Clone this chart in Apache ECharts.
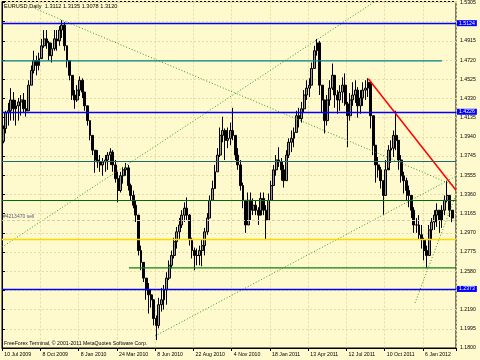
<!DOCTYPE html>
<html><head><meta charset="utf-8">
<script src="https://cdn.jsdelivr.net/npm/echarts@6/dist/echarts.min.js"></script>
<style>html,body{margin:0;padding:0;background:#FFFACD}#c{width:480px;height:360px}</style>
</head><body><div id="c"></div>
<script>
const symbolTitle = 'EURUSD,Daily';
const lastOHLC = ['1.3112', '1.3135', '1.3078', '1.3120'];
const footerText = 'FreeForex Terminal, \u00a9 2001-2011 MetaQuotes Software Corp.';
const xTickLabels = ['10 Jul 2009','8 Oct 2009','8 Jan 2010','24 Mar 2010','8 Jun 2010','22 Aug 2010','4 Nov 2010','18 Jan 2011','13 Apr 2011','12 Jul 2011','10 Oct 2011','6 Jan 2012'];
const slotsPerTick = 15;
const totalSlots = 178;
const priceTickLabels = ['1.1800','1.1995','1.2190','','1.2580','1.2775','1.2970','1.3165','1.3360','1.3555','1.3745','1.3940','1.4135','1.4330','1.4525','1.4720','1.4915','','1.5305'];
const priceMin = 1.18, priceMax = 1.532, priceStep = 0.0195;

const firstOpen = 1.390;
const highs = [1.406,1.421,1.429,1.444,1.440,1.432,1.434,1.437,1.439,1.432,
1.452,1.467,1.482,1.477,1.480,1.494,1.503,1.503,1.492,1.490,
1.503,1.503,1.507,1.513,1.511,1.482,1.472,1.457,1.442,1.447,
1.456,1.454,1.440,1.423,1.411,1.391,1.381,1.381,1.376,1.373,
1.376,1.379,1.383,1.381,1.371,1.359,1.359,1.364,1.368,1.366,
1.347,1.340,1.330,1.315,1.284,1.267,1.249,1.246,1.239,1.227,
1.213,1.231,1.241,1.244,1.257,1.269,1.279,1.292,1.303,1.312,
1.320,1.328,1.333,1.316,1.292,1.282,1.281,1.284,1.290,1.302,
1.317,1.335,1.350,1.366,1.383,1.404,1.415,1.403,1.404,1.409,
1.424,1.396,1.383,1.371,1.348,1.330,1.338,1.338,1.332,1.330,
1.323,1.338,1.338,1.325,1.337,1.350,1.366,1.376,1.384,1.373,
1.366,1.381,1.393,1.401,1.404,1.421,1.424,1.430,1.442,1.452,
1.454,1.470,1.487,1.494,1.492,1.447,1.426,1.437,1.452,1.469,
1.457,1.442,1.447,1.455,1.459,1.430,1.439,1.450,1.452,1.445,
1.442,1.450,1.452,1.454,1.448,1.416,1.386,1.374,1.364,1.345,
1.371,1.386,1.391,1.401,1.421,1.391,1.376,1.359,1.353,1.345,
1.335,1.323,1.312,1.315,1.305,1.292,1.284,1.305,1.312,1.320,
1.327,1.320,1.325,1.335,1.350,1.335,1.3135];
const lows = [1.388,1.398,1.406,1.411,1.411,1.406,1.411,1.416,1.419,1.415,
1.421,1.447,1.459,1.457,1.462,1.475,1.485,1.484,1.472,1.470,
1.482,1.482,1.487,1.495,1.482,1.465,1.452,1.432,1.423,1.430,
1.436,1.434,1.421,1.406,1.391,1.376,1.358,1.363,1.359,1.355,
1.359,1.361,1.366,1.359,1.348,1.328,1.338,1.347,1.355,1.340,
1.330,1.322,1.308,1.274,1.259,1.247,1.229,1.215,1.221,1.203,
1.188,1.200,1.217,1.219,1.224,1.249,1.261,1.271,1.281,1.290,
1.302,1.308,1.310,1.284,1.271,1.259,1.264,1.264,1.263,1.274,
1.295,1.312,1.330,1.343,1.359,1.374,1.389,1.371,1.383,1.386,
1.391,1.371,1.361,1.340,1.322,1.297,1.305,1.310,1.315,1.315,
1.305,1.320,1.315,1.290,1.310,1.330,1.345,1.355,1.364,1.350,
1.343,1.350,1.373,1.379,1.384,1.399,1.404,1.409,1.419,1.432,
1.435,1.447,1.464,1.477,1.437,1.419,1.398,1.406,1.426,1.442,
1.424,1.418,1.421,1.429,1.426,1.384,1.411,1.426,1.429,1.414,
1.418,1.426,1.432,1.435,1.403,1.376,1.348,1.353,1.342,1.315,
1.335,1.363,1.368,1.374,1.381,1.361,1.348,1.337,1.330,1.323,
1.312,1.297,1.297,1.290,1.281,1.269,1.261,1.274,1.290,1.300,
1.303,1.297,1.302,1.315,1.328,1.313,1.3078];
const closes = [1.403,1.419,1.421,1.432,1.423,1.426,1.430,1.432,1.423,1.421,
1.447,1.462,1.472,1.467,1.474,1.487,1.494,1.490,1.477,1.484,
1.494,1.492,1.503,1.508,1.487,1.472,1.457,1.437,1.432,1.442,
1.452,1.440,1.426,1.411,1.396,1.381,1.371,1.369,1.366,1.369,
1.371,1.376,1.379,1.366,1.352,1.340,1.355,1.361,1.363,1.345,
1.335,1.325,1.315,1.279,1.267,1.251,1.239,1.234,1.229,1.210,
1.203,1.224,1.229,1.239,1.251,1.264,1.274,1.288,1.298,1.305,
1.315,1.322,1.315,1.290,1.279,1.274,1.274,1.279,1.284,1.298,
1.312,1.330,1.342,1.359,1.376,1.396,1.401,1.391,1.393,1.401,
1.396,1.376,1.366,1.345,1.330,1.305,1.330,1.320,1.325,1.320,
1.315,1.332,1.320,1.310,1.330,1.345,1.361,1.371,1.369,1.361,
1.350,1.376,1.389,1.393,1.399,1.416,1.413,1.423,1.437,1.444,
1.447,1.464,1.482,1.490,1.447,1.432,1.411,1.432,1.444,1.457,
1.437,1.432,1.440,1.447,1.428,1.416,1.432,1.437,1.442,1.426,
1.434,1.442,1.444,1.450,1.416,1.386,1.366,1.361,1.350,1.335,
1.361,1.381,1.383,1.396,1.391,1.371,1.355,1.350,1.340,1.335,
1.320,1.305,1.305,1.295,1.290,1.279,1.274,1.300,1.308,1.315,
1.320,1.310,1.320,1.330,1.335,1.320,1.3120];

// horizontal levels (price)
const blueLevels = [1.5124, 1.4226, 1.2373];
const slateLevel = 1.3738;
const darkGreenLevel = 1.3310;
const goldLevel = 1.2896;
const orderPrice = 1.3145;
const orderText = '#4213470 sell';
const bidPrice = 1.3120;
// partial levels & trend lines: [slot, price]
const tealSegment = [[0, 1.4716], [172.5, 1.4716]];
const greenSegment = [[49.8, 1.2613], [178, 1.2613]];
const redTrend = [[143.6, 1.4536], [178, 1.3403]];
const dotTrend1 = [[12.9, 1.5249], [178, 1.3443]];
const dotTrend2 = [[0, 1.2825], [146.2, 1.5320]];
const dotTrend3 = [[60.0, 1.1922], [178, 1.3545]];
const dotTrend4 = [[161.9, 1.2257], [178, 1.3358]];

const categories = [];
for (let i = 0; i < totalSlots; i++) {
  categories.push(i % slotsPerTick === 0 ? (xTickLabels[i / slotsPerTick] || '') : '');
}
const candles = closes.map((c, i) => [i === 0 ? firstOpen : closes[i - 1], c, lows[i], highs[i]]);

const FONT = 'Liberation Sans';
const chart = echarts.init(document.getElementById('c'), null, {renderer: 'canvas'});

function lvl(price, color, width, extra) {
  return Object.assign({yAxis: price, lineStyle: {color: color, width: width, type: 'solid'}, label: {show: false}}, extra || {});
}
function axisTag(price, bg) {
  return {show: true, position: 'end', formatter: price.toFixed(4), backgroundColor: bg, color: '#fff',
    fontSize: 5.2, fontFamily: FONT, padding: [1, 2, 0, 2], distance: 1};
}
const mlData = [];
blueLevels.forEach(p => mlData.push(lvl(p, '#0000ff', 1.3, {label: axisTag(p, '#0000ff')})));
mlData.push(lvl(slateLevel, '#1f6b6b', 1));
mlData.push(lvl(darkGreenLevel, '#0b650b', 1));
mlData.push(lvl(goldLevel, '#ffd700', 1.4));
mlData.push({yAxis: orderPrice, lineStyle: {color: '#d2cbb0', width: 1, type: [3, 2]},
  label: {show: true, position: 'insideStartTop', formatter: orderText, fontSize: 5, fontFamily: FONT, color: '#5a5a7a', distance: 1}});
mlData.push({yAxis: bidPrice, lineStyle: {width: 0, opacity: 0}, label: axisTag(bidPrice, '#000000')});

function seg(data, color, width, type) {
  return {type: 'line', xAxisIndex: 1, yAxisIndex: 0, data: data, symbol: 'none', silent: true,
    lineStyle: {color: color, width: width, type: type}, z: 4, animation: false};
}

chart.setOption({
  backgroundColor: '#FFFACD',
  animation: false,
  title: [
    {text: symbolTitle + '  ' + lastOHLC.join(' '), left: 4, top: 3, padding: 0,
      textStyle: {fontSize: 5.6, fontWeight: 'normal', color: '#000', fontFamily: FONT}},
    {text: footerText, left: 4, top: 341, padding: 0,
      textStyle: {fontSize: 5.2, fontWeight: 'normal', color: '#000', fontFamily: FONT}}
  ],
  grid: {left: 2, right: 24, top: 1, bottom: 12, show: true, borderColor: '#000', borderWidth: 1, backgroundColor: 'transparent'},
  xAxis: [{
    type: 'category', data: categories, boundaryGap: true,
    axisLine: {lineStyle: {color: '#000', width: 1}},
    axisTick: {show: true, interval: slotsPerTick - 1, length: 3, lineStyle: {color: '#000'}},
    axisLabel: {interval: slotsPerTick - 1, align: 'left', fontSize: 5.2, fontFamily: FONT, color: '#000', margin: 4, padding: [0, 0, 0, 1]},
    splitLine: {show: true, interval: slotsPerTick - 1, lineStyle: {color: '#e6dba3', type: [2, 2], width: 1}}
  }, {
    type: 'value', min: 0, max: totalSlots, show: false
  }],
  yAxis: {
    type: 'value', position: 'right', min: priceMin, max: priceMax, interval: priceStep, scale: true,
    axisLine: {show: true, lineStyle: {color: '#000'}},
    axisTick: {show: true, length: 3, lineStyle: {color: '#000'}},
    axisLabel: {fontSize: 5.2, fontFamily: FONT, color: '#000', margin: 4,
      formatter: function (v) {
        const k = Math.round((v - priceMin) / priceStep);
        if (Math.abs(v - (priceMin + k * priceStep)) > 0.001) return '';
        return priceTickLabels[k] || '';
      }},
    splitLine: {show: true, lineStyle: {color: '#e6dba3', type: [2, 2], width: 1}}
  },
  series: [
    {type: 'candlestick', data: candles, barWidth: 2.4, z: 3,
      itemStyle: {color: '#9a9a90', color0: '#000000', borderColor: '#000000', borderColor0: '#000000', borderWidth: 1},
      markLine: {silent: true, symbol: ['none', 'none'], animation: false, data: mlData}
    },
    seg(tealSegment, '#008080', 1.3, 'solid'),
    seg(greenSegment, '#108010', 1.2, 'solid'),
    seg(redTrend, '#ff0000', 1.5, 'solid'),
    seg(dotTrend1, '#2e9a2e', 1, [1, 2]),
    seg(dotTrend2, '#2e9a2e', 1, [1, 2]),
    seg(dotTrend3, '#2e9a2e', 1, [1, 2]),
    seg(dotTrend4, '#2e9a2e', 1, [1, 2])
  ]
});
</script></body></html>
